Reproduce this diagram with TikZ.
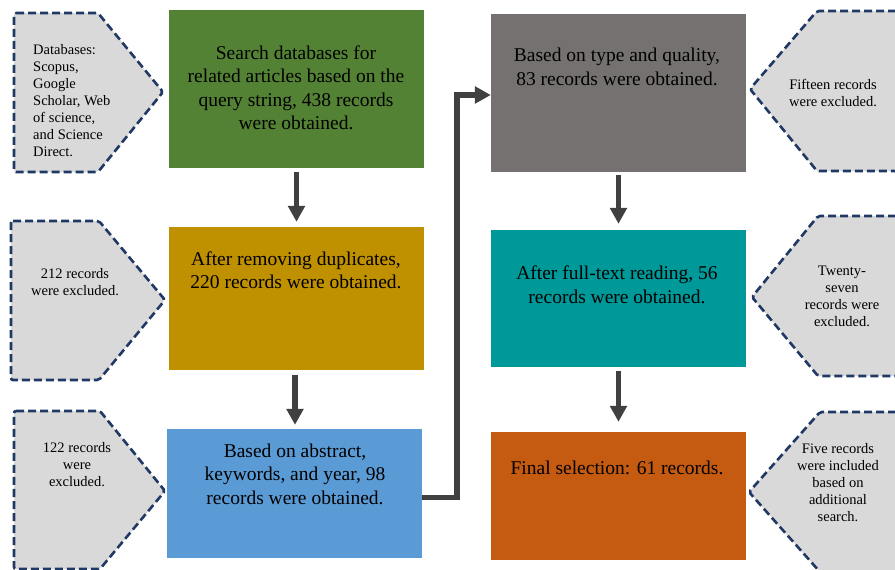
\documentclass[tikz,border=0pt]{standalone}
\usepackage{fontspec}
\setmainfont{Liberation Serif}
\usetikzlibrary{arrows.meta}

\definecolor{searchgreen}{HTML}{548235}
\definecolor{dupgold}{HTML}{BF9000}
\definecolor{absblue}{HTML}{5B9BD5}
\definecolor{qualgray}{HTML}{767171}
\definecolor{fullteal}{HTML}{009999}
\definecolor{finalorange}{HTML}{C55A11}
\definecolor{notefill}{HTML}{D9D9D9}
\definecolor{noteline}{HTML}{203864}
\definecolor{flowgray}{HTML}{404040}

\begin{document}
\begin{tikzpicture}[x=1pt,y=-1pt]

% Style for the stage boxes and their text
\tikzstyle{stage}=[rectangle,draw=none,inner sep=0,minimum width=255pt]
\tikzstyle{stagetext}=[align=center,inner sep=0,font=\fontsize{19.5}{23.5}\selectfont]
% Style for the side notes
\tikzstyle{note}=[fill=notefill,draw=noteline,line width=2.6pt,dash pattern=on 8pt off 4pt,rounded corners=2pt]
\tikzstyle{notetext}=[align=center,inner sep=0,font=\fontsize{14.5}{17}\selectfont]
% Thick arrows between stages
\tikzstyle{flow}=[draw=flowgray,line width=5.5pt,-{Triangle[width=16.5pt,length=16pt]}]

\useasboundingbox (0,0) rectangle (895,570);

% Left column
\node(search)[stage,fill=searchgreen,minimum height=158pt] at (296.5,89) {};
\node(dedup)[stage,fill=dupgold,minimum height=143pt] at (296.5,298.5) {};
\node(abstract)[stage,fill=absblue,minimum height=129pt] at (294.5,493.5) {};
% Right column
\node(quality)[stage,fill=qualgray,minimum height=158pt] at (618.5,93) {};
\node(fulltext)[stage,fill=fullteal,minimum height=137pt] at (618.5,298.5) {};
\node(final)[stage,fill=finalorange,minimum height=128pt] at (618.5,496) {};

\node(searchtxt)[stagetext] at (296,88) {Search databases for\\related articles based on the\\query string, 438 records\\were obtained.};
\node(deduptxt)[stagetext] at (296,270.5) {After removing duplicates,\\220 records were obtained.};
\node(abstracttxt)[stagetext] at (295,474) {Based on abstract,\\keywords, and year, 98\\records were obtained.};
\node(qualitytxt)[stagetext] at (617,67) {Based on type and quality,\\83 records were obtained.};
\node(fulltexttxt)[stagetext] at (617,285) {After full-text reading, 56\\records were obtained.};
\node(finaltxt)[stagetext] at (617,468) {Final selection: 61 records.};

% Notes pointing right
\draw[note] (14,13) -- (98,13) -- (163,92) -- (98,172) -- (14,172) -- cycle;
\draw[note] (11,221) -- (99,221) -- (165,300) -- (99,380) -- (11,380) -- cycle;
\draw[note] (14,411) -- (100,411) -- (165,491) -- (100,569) -- (14,569) -- cycle;
% Notes pointing left, cut by the page edge
\fill[notefill] (896,11) -- (817,11) -- (750,89) -- (817,171) -- (896,171) -- cycle;
\draw[note,fill=none] (896,11) -- (817,11) -- (750,89) -- (817,171) -- (896,171);
\fill[notefill] (896,216) -- (818,216) -- (752,297) -- (818,376) -- (896,376) -- cycle;
\draw[note,fill=none] (896,216) -- (818,216) -- (752,297) -- (818,376) -- (896,376);
\fill[notefill] (896,412) -- (820,412) -- (749,492) -- (820,572) -- (896,572) -- cycle;
\draw[note,fill=none] (896,412) -- (820,412) -- (749,492) -- (820,572);

\node(dbnote)[notetext,align=left,anchor=west] at (33,100.5) {Databases:\\Scopus,\\Google\\Scholar, Web\\of science,\\and Science\\Direct.};
\node(dupnote)[notetext] at (75,282.5) {212 records\\were excluded.};
\node(absnote)[notetext] at (77,465) {122 records\\were\\excluded.};
\node(qualnote)[notetext] at (833,92.5) {Fifteen records\\were excluded.};
\node(fullnote)[notetext] at (842,296) {Twenty-\\seven\\records were\\excluded.};
\node(finalnote)[notetext] at (838,483) {Five records\\were included\\based on\\additional\\search.};

% Arrows
\draw[flow,shorten <=4pt,shorten >=5pt] (search) -- (dedup);
\draw[flow,shorten <=5pt,shorten >=4pt] ([xshift=-1.5pt]dedup.south) -- ([xshift=-1.5pt]dedup.south |- abstract.north);
\draw[flow,shorten <=3pt,shorten >=6pt] (quality) -- (fulltext);
\draw[flow,shorten <=4pt,shorten >=10pt] (fulltext) -- (final);
\draw[flow,rounded corners=0pt] ([yshift=-4pt]abstract.east) -- ++(35,0) |- ([yshift=-2pt]quality.west);

\end{tikzpicture}
\end{document}
